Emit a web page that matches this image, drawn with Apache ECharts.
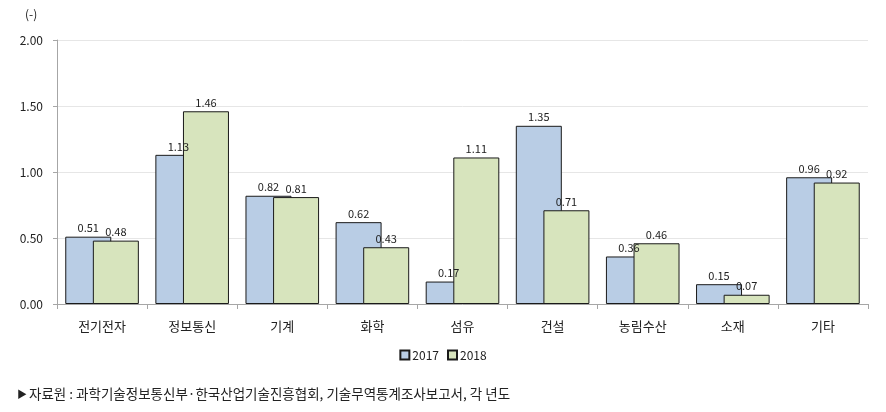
<!DOCTYPE html>
<html><head><meta charset="utf-8">
<script src="https://cdn.jsdelivr.net/npm/echarts@6/dist/echarts.min.js"></script>
<style>html,body{margin:0;padding:0;background:#fff}#c{width:886px;height:412px}</style>
</head><body><div id="c"></div>
<script>
const categories = ['전기전자','정보통신','기계','화학','섬유','건설','농림수산','소재','기타'];
const values2017 = [0.51,1.13,0.82,0.62,0.17,1.35,0.36,0.15,0.96];
const values2018 = [0.48,1.46,0.81,0.43,1.11,0.71,0.46,0.07,0.92];
const yTicks = [0, 0.5, 1.0, 1.5, 2.0];
const FONT = '"Noto Sans CJK KR", sans-serif';
const chart = echarts.init(document.getElementById('c'));
const lbl = {show:true, position:'top', distance:3, color:'#222', fontSize:11, fontFamily:FONT, formatter:p=>p.value.toFixed(2)};
chart.setOption({
  animation:false,
  textStyle:{fontFamily:FONT},
  grid:{left:57, right:18, top:40, bottom:108, containLabel:false},
  title:[
    {text:'(-)', left:20, top:3, textStyle:{fontSize:12, fontWeight:'normal', color:'#222', fontFamily:FONT}},
    {text:'{t|▶}자료원 : 과학기술정보통신부·한국산업기술진흥협회, 기술무역통계조사보고서, 각 년도', left:12, top:382,
     textStyle:{fontSize:13.5, fontWeight:'normal', color:'#222', fontFamily:FONT, rich:{t:{fontSize:10, color:'#222', padding:[0,2,0,0]}}}}
  ],
  legend:{data:['2017','2018'], left:'center', top:344, itemWidth:9, itemHeight:9, itemGap:8, icon:'rect',
    textStyle:{fontSize:12, color:'#222', fontFamily:FONT, padding:[0,0,0,-2]}},
  xAxis:{type:'category', data:categories,
    axisLine:{lineStyle:{color:'#a6a6a6'}},
    axisTick:{show:true, length:5, lineStyle:{color:'#a6a6a6'}},
    axisLabel:{fontSize:13, color:'#222', margin:16, fontFamily:FONT}},
  yAxis:{type:'value', min:0, max:2, interval:0.5,
    axisLine:{show:true, lineStyle:{color:'#a6a6a6'}},
    axisTick:{show:true, length:4, lineStyle:{color:'#a6a6a6'}},
    splitLine:{lineStyle:{color:'#e6e6e6'}},
    axisLabel:{fontSize:12, color:'#222', margin:14, fontFamily:FONT, formatter:v=>v.toFixed(2)}},
  series:[
    {name:'2017', type:'bar', data:values2017, barWidth:46, barGap:'-40%',
     itemStyle:{color:'#b9cde5', borderColor:'#1a1a1a', borderWidth:1}, label:lbl},
    {name:'2018', type:'bar', data:values2018, barWidth:46,
     itemStyle:{color:'#d7e4bd', borderColor:'#1a1a1a', borderWidth:1}, label:lbl}
  ]
});
</script></body></html>
